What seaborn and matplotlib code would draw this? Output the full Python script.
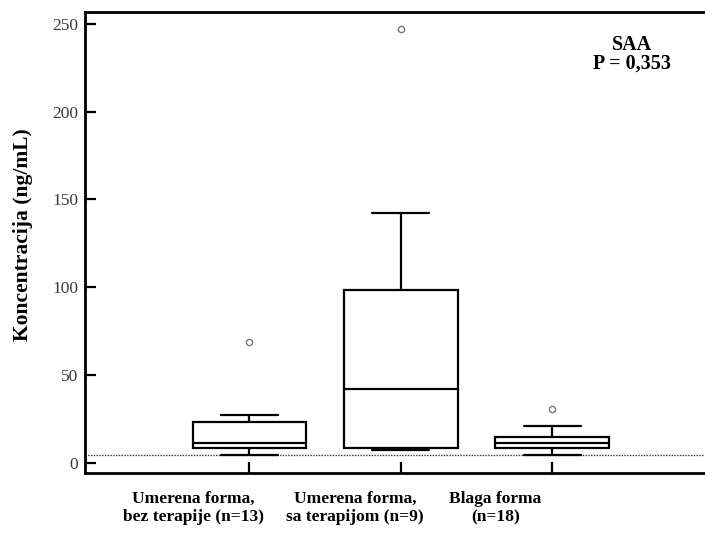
import numpy as np
import pandas as pd
import seaborn as sns
import matplotlib
matplotlib.use("Agg")
import matplotlib.pyplot as plt

# ---- data ----
categories = ["Umerena forma,\nbez terapije (n=13)",
              "Umerena forma,\nsa terapijom (n=9)",
              "Blaga forma\n(n=18)"]
g1_values = [4.2, 5.5, 7.0, 8.3, 9.2, 10.5, 11.4, 14.0, 18.5, 23.2, 25.5, 27.4, 68.8]
g2_values = [7.0, 7.6, 8.3, 20.0, 42.2, 70.0, 98.5, 142.0, 247.0]
g3_values = [4.2, 6.0, 7.5, 8.2, 8.6, 8.6, 9.5, 10.5, 11.4, 11.4, 12.2, 13.5,
             14.4, 14.4, 16.0, 18.0, 21.1, 30.4]
detection_limit = 4.5
y_ticks = [0, 50, 100, 150, 200, 250]
y_label = "Koncentracija (ng/mL)"
title_text = "SAA"
p_text = "P = 0,353"

df = pd.DataFrame({
    "group": [categories[0]] * len(g1_values) + [categories[1]] * len(g2_values)
             + [categories[2]] * len(g3_values),
    "value": g1_values + g2_values + g3_values,
})

sns.set_style("ticks")
plt.rcParams["font.family"] = ["Liberation Serif", "DejaVu Serif"]
plt.rcParams["text.color"] = "black"
plt.rcParams["axes.labelcolor"] = "black"

fig = plt.figure(figsize=(7.05, 5.35), dpi=100)
ax = fig.add_axes([85 / 705, 1 - 473.3 / 535, 620 / 705, 461.6 / 535])

ax.axhline(detection_limit, ls=(0, (1, 1)), color="#333333", lw=1.0, zorder=0)

sns.boxplot(data=df, x="group", y="value", order=categories, ax=ax,
            width=0.75, color="white", linecolor="black", linewidth=1.6,
            fliersize=4.5,
            flierprops=dict(marker="o", markerfacecolor="white",
                            markeredgecolor="#777777", markeredgewidth=1.0))

ax.set_xlim(-1.087, 3.01)
ax.set_ylim(-6.1, 257)

ax.set_yticks(y_ticks)
ax.set_yticklabels([str(t) for t in y_ticks], color="#3a3a3a", fontsize=12.5)

# major x ticks at box centres without labels; labels as minor ticks (offset as in reference)
ax.set_xticks([0, 1, 2])
ax.set_xticklabels(["", "", ""])
ax.set_xticks([-0.372, 0.699, 1.625], minor=True)
ax.set_xticklabels(categories, minor=True, fontsize=12.5, fontweight="bold",
                   linespacing=1.15, color="black")
ax.tick_params(axis="x", which="minor", length=0, pad=13)
ax.tick_params(axis="both", which="major", direction="in", length=8, width=1.6,
               color="black")
ax.tick_params(axis="y", pad=5)

ax.set_xlabel("")
ax.set_ylabel(y_label, fontsize=15.5, fontweight="bold", color="black")
ax.yaxis.set_label_coords(-0.084, 0.518)

for s in ["top", "left", "bottom"]:
    ax.spines[s].set_linewidth(2.0)
    ax.spines[s].set_color("black")
ax.spines["right"].set_visible(False)

ax.text(0.882, 0.917, title_text, transform=ax.transAxes, ha="center", va="baseline",
        fontsize=14.5, fontweight="bold", color="black")
ax.text(0.882, 0.877, p_text, transform=ax.transAxes, ha="center", va="baseline",
        fontsize=14.5, fontweight="bold", color="black")

fig.savefig("out.png", dpi=100)
